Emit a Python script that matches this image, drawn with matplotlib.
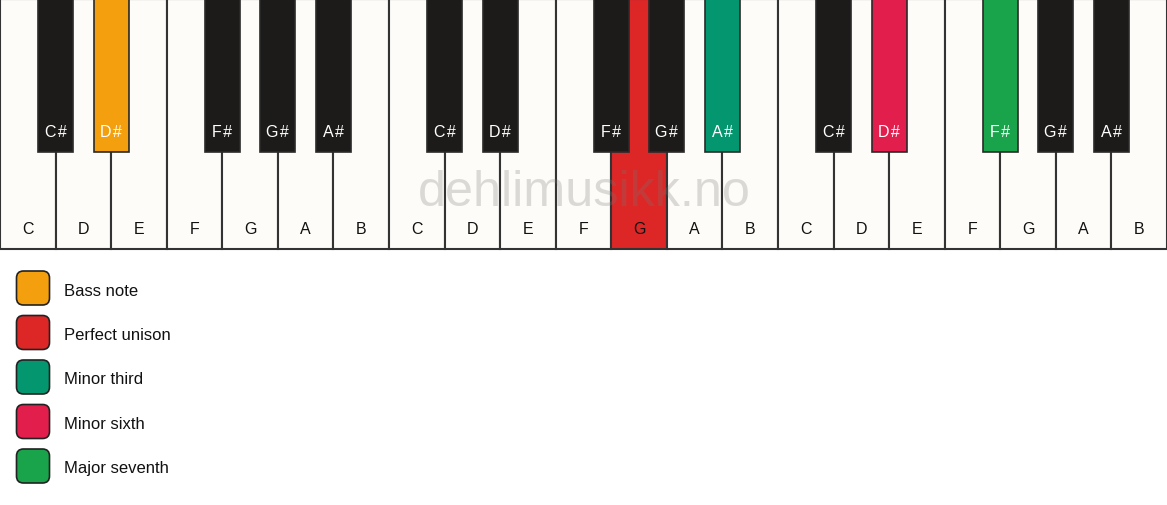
import matplotlib
matplotlib.use("Agg")
import matplotlib.pyplot as plt
from matplotlib.patches import Rectangle, FancyBboxPatch

plt.rcParams['font.family'] = ['Liberation Sans', 'DejaVu Sans']

# ---- data ----
white_notes = ['C', 'D', 'E', 'F', 'G', 'A', 'B']
black_notes = ['C#', 'D#', 'F#', 'G#', 'A#']
black_after_white = [0, 1, 3, 4, 5]   # black key sits after these white keys
n_octaves = 3

highlight_notes = ['D#', 'G', 'A#', 'D#', 'F#']
highlight_octaves = [0, 1, 1, 2, 2]
legend_labels = ['Bass note', 'Perfect unison', 'Minor third', 'Minor sixth', 'Major seventh']
legend_colors = ['#F49F0E', '#DD2727', '#04966E', '#E21F4C', '#19A34A']

watermark = 'dehlimusikk.no'

# ---- layout ----
W, H = 1167, 506
fig = plt.figure(figsize=(W / 100, H / 100), dpi=100)
ax = fig.add_axes([0, 0, 1, 1])
ax.set_xlim(0, W)
ax.set_ylim(H, 0)
ax.axis('off')
fig.patch.set_facecolor('white')

n_white = len(white_notes) * n_octaves
ww = W / n_white
kb_h = 250
bk_w = 35
bk_h = 153
white_fill = '#FDFCF8'
black_fill = '#1C1B1A'
edge = '#333333'

hl = {(n, o): c for n, o, c in zip(highlight_notes, highlight_octaves, legend_colors)}

# white keys
for o in range(n_octaves):
    for i, n in enumerate(white_notes):
        x = (o * 7 + i) * ww
        fc = hl.get((n, o), white_fill)
        ax.add_patch(Rectangle((x, 0), ww, kb_h, facecolor=fc, edgecolor=edge,
                               linewidth=1.5, zorder=1))
        ax.text(x + ww / 2, 230, n, ha='center', va='center', fontsize=11.5,
                color='#111111', zorder=5)

# black keys
for o in range(n_octaves):
    for n, wi in zip(black_notes, black_after_white):
        cx = (o * 7 + wi + 1) * ww
        fc = hl.get((n, o), black_fill)
        ax.add_patch(Rectangle((cx - bk_w / 2, 0), bk_w, bk_h, facecolor=fc,
                               edgecolor='#2a2a2a', linewidth=1.2, zorder=3))
        ax.text(cx, 132, n[0] + '\u200a' + n[1:], ha='center', va='center',
                fontsize=11.5, color='white', zorder=5)

# watermark
ax.text(584, 193, watermark, ha='center', va='center', fontsize=36.3,
        color='#777777', alpha=0.26, zorder=6)

# legend
for k, (lab, col) in enumerate(zip(legend_labels, legend_colors)):
    cy = 289 + k * 44.5
    ax.add_patch(FancyBboxPatch((16.5, cy - 17), 33, 34,
                                boxstyle='round,pad=0,rounding_size=7',
                                facecolor=col, edgecolor='#222222',
                                linewidth=1.2, zorder=2))
    ax.text(64, cy + 2, lab, ha='left', va='center', fontsize=12,
            color='#111111')

fig.savefig('out.png', dpi=100, facecolor='white')
